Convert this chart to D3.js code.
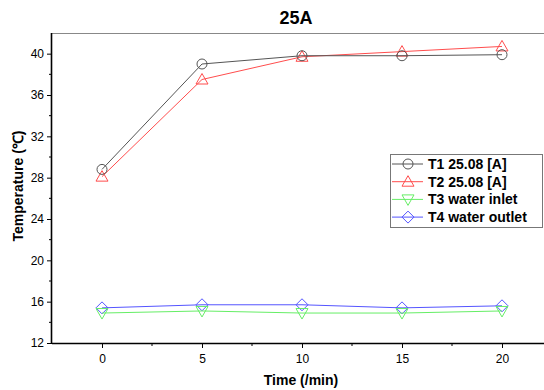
<!DOCTYPE html>
<html>
<head>
<meta charset="utf-8">
<script src="https://cdn.jsdelivr.net/npm/d3@7"></script>
<style>
  body { margin: 0; background: #fff; }
  svg { display: block; font-family: 'Liberation Sans', Arial, sans-serif; }
</style>
</head>
<body>
<svg width="544" height="390"></svg>
<script>
const times = [0, 5, 10, 15, 20]
const t1 = [28.8, 39.0, 39.8, 39.8, 39.9]
const t2 = [28.1, 37.5, 39.7, 40.2, 40.7]
const t3 = [14.9, 15.1, 14.9, 14.9, 15.1]
const t4 = [15.4, 15.7, 15.7, 15.4, 15.6]
const seriesNames = ['T1 25.08 [A]', 'T2 25.08 [A]', 'T3 water inlet', 'T4 water outlet']
const xTicks = [0, 5, 10, 15, 20]
const yTicks = [12, 16, 20, 24, 28, 32, 36, 40]

const series = [
  { name: seriesNames[0], values: t1, colour: '#555', symbol: 'circle' },
  { name: seriesNames[1], values: t2, colour: '#ff4d4d', symbol: 'up' },
  { name: seriesNames[2], values: t3, colour: '#66ee66', symbol: 'down' },
  { name: seriesNames[3], values: t4, colour: '#5555ff', symbol: 'diamond' }
]

const margin = { top: 33, right: 0, bottom: 47, left: 52 }
const width = 544
const height = 390

const x = d3.scaleLinear()
  .domain([-2.5, 22.1])
  .range([margin.left, width - margin.right])

const y = d3.scaleLinear()
  .domain([12, 42])
  .range([height - margin.bottom, margin.top])

const svg = d3.select('svg')

// frame top line
svg.append('line')
  .attr('x1', margin.left).attr('x2', width)
  .attr('y1', margin.top + 0.5).attr('y2', margin.top + 0.5)
  .attr('stroke', '#888')

// x axis
const xAxis = svg.append('g')
  .attr('transform', 'translate(0,' + y(12) + ')')
  .call(d3.axisBottom(x).tickValues(xTicks).tickSize(5).tickPadding(6))
xAxis.append('g').selectAll('line')
  .data([2.5, 7.5, 12.5, 17.5])
  .enter().append('line')
  .attr('x1', d => x(d)).attr('x2', d => x(d))
  .attr('y1', 0).attr('y2', 3)
  .attr('stroke', '#000')
xAxis.select('.domain').attr('d', 'M' + margin.left + ',0.5H' + width).attr('stroke-width', 1.6)

// y axis
const yAxis = svg.append('g')
  .attr('transform', 'translate(' + margin.left + ',0)')
  .call(d3.axisLeft(y).tickValues(yTicks).tickSize(5).tickPadding(3))
yAxis.append('g').selectAll('line')
  .data(d3.range(14, 42, 4))
  .enter().append('line')
  .attr('y1', d => y(d)).attr('y2', d => y(d))
  .attr('x1', 0).attr('x2', -3)
  .attr('stroke', '#000')
yAxis.select('.domain').attr('d', 'M-0.5,' + margin.top + 'V' + y(12)).attr('stroke-width', 1.6)

svg.selectAll('.tick text').attr('font-size', 12).attr('fill', '#000')
  .attr('font-family', "'Liberation Sans', Arial, sans-serif")

// labels
svg.append('text')
  .text('25A')
  .attr('x', 296).attr('y', 24)
  .attr('text-anchor', 'middle')
  .attr('font-size', 18).attr('font-weight', 'bold')

svg.append('text')
  .text('Time (/min)')
  .attr('x', 301).attr('y', 385)
  .attr('text-anchor', 'middle')
  .attr('font-size', 14).attr('font-weight', 'bold')

svg.append('text')
  .text('Temperature (℃)')
  .attr('transform', 'translate(23,186) rotate(-90)')
  .attr('text-anchor', 'middle')
  .attr('font-size', 14).attr('font-weight', 'bold')

const symbolPath = (kind, cx, cy) => {
  if (kind === 'up') return `M${cx},${cy - 6}L${cx + 6},${cy + 4.5}L${cx - 6},${cy + 4.5}Z`
  if (kind === 'down') return `M${cx},${cy + 6}L${cx + 6},${cy - 4.5}L${cx - 6},${cy - 4.5}Z`
  return `M${cx},${cy - 6}L${cx + 6},${cy}L${cx},${cy + 6}L${cx - 6},${cy}Z`
}

const drawSymbol = (g, kind, cx, cy, colour) => {
  if (kind === 'circle') {
    g.append('circle').attr('cx', cx).attr('cy', cy).attr('r', 5)
      .attr('fill', 'none').attr('stroke', colour)
  } else {
    g.append('path').attr('d', symbolPath(kind, cx, cy))
      .attr('fill', 'none').attr('stroke', colour)
  }
}

const line = d3.line()
  .x((d, i) => x(times[i]))
  .y(d => y(d))

// draw in reverse so T1/T2 on top
series.slice().reverse().forEach(s => {
  const g = svg.append('g')
  g.append('path')
    .attr('d', line(s.values))
    .attr('fill', 'none')
    .attr('stroke', s.colour)
  s.values.forEach((v, i) => drawSymbol(g, s.symbol, x(times[i]), y(v), s.colour))
})

// legend
const legend = svg.append('g').attr('transform', 'translate(390,154)')
legend.append('rect')
  .attr('x', 0.5).attr('y', 0.5)
  .attr('width', 152).attr('height', 73)
  .attr('fill', '#fff').attr('stroke', '#777')
series.forEach((s, i) => {
  const cy = 10 + i * 17.7
  legend.append('line')
    .attr('x1', 2).attr('x2', 33)
    .attr('y1', cy).attr('y2', cy)
    .attr('stroke', s.colour)
  drawSymbol(legend, s.symbol, 18, cy, s.colour)
  legend.append('text')
    .text(s.name)
    .attr('x', 38).attr('y', cy + 5)
    .attr('font-size', 14).attr('font-weight', 'bold')
})
</script>
</body>
</html>
